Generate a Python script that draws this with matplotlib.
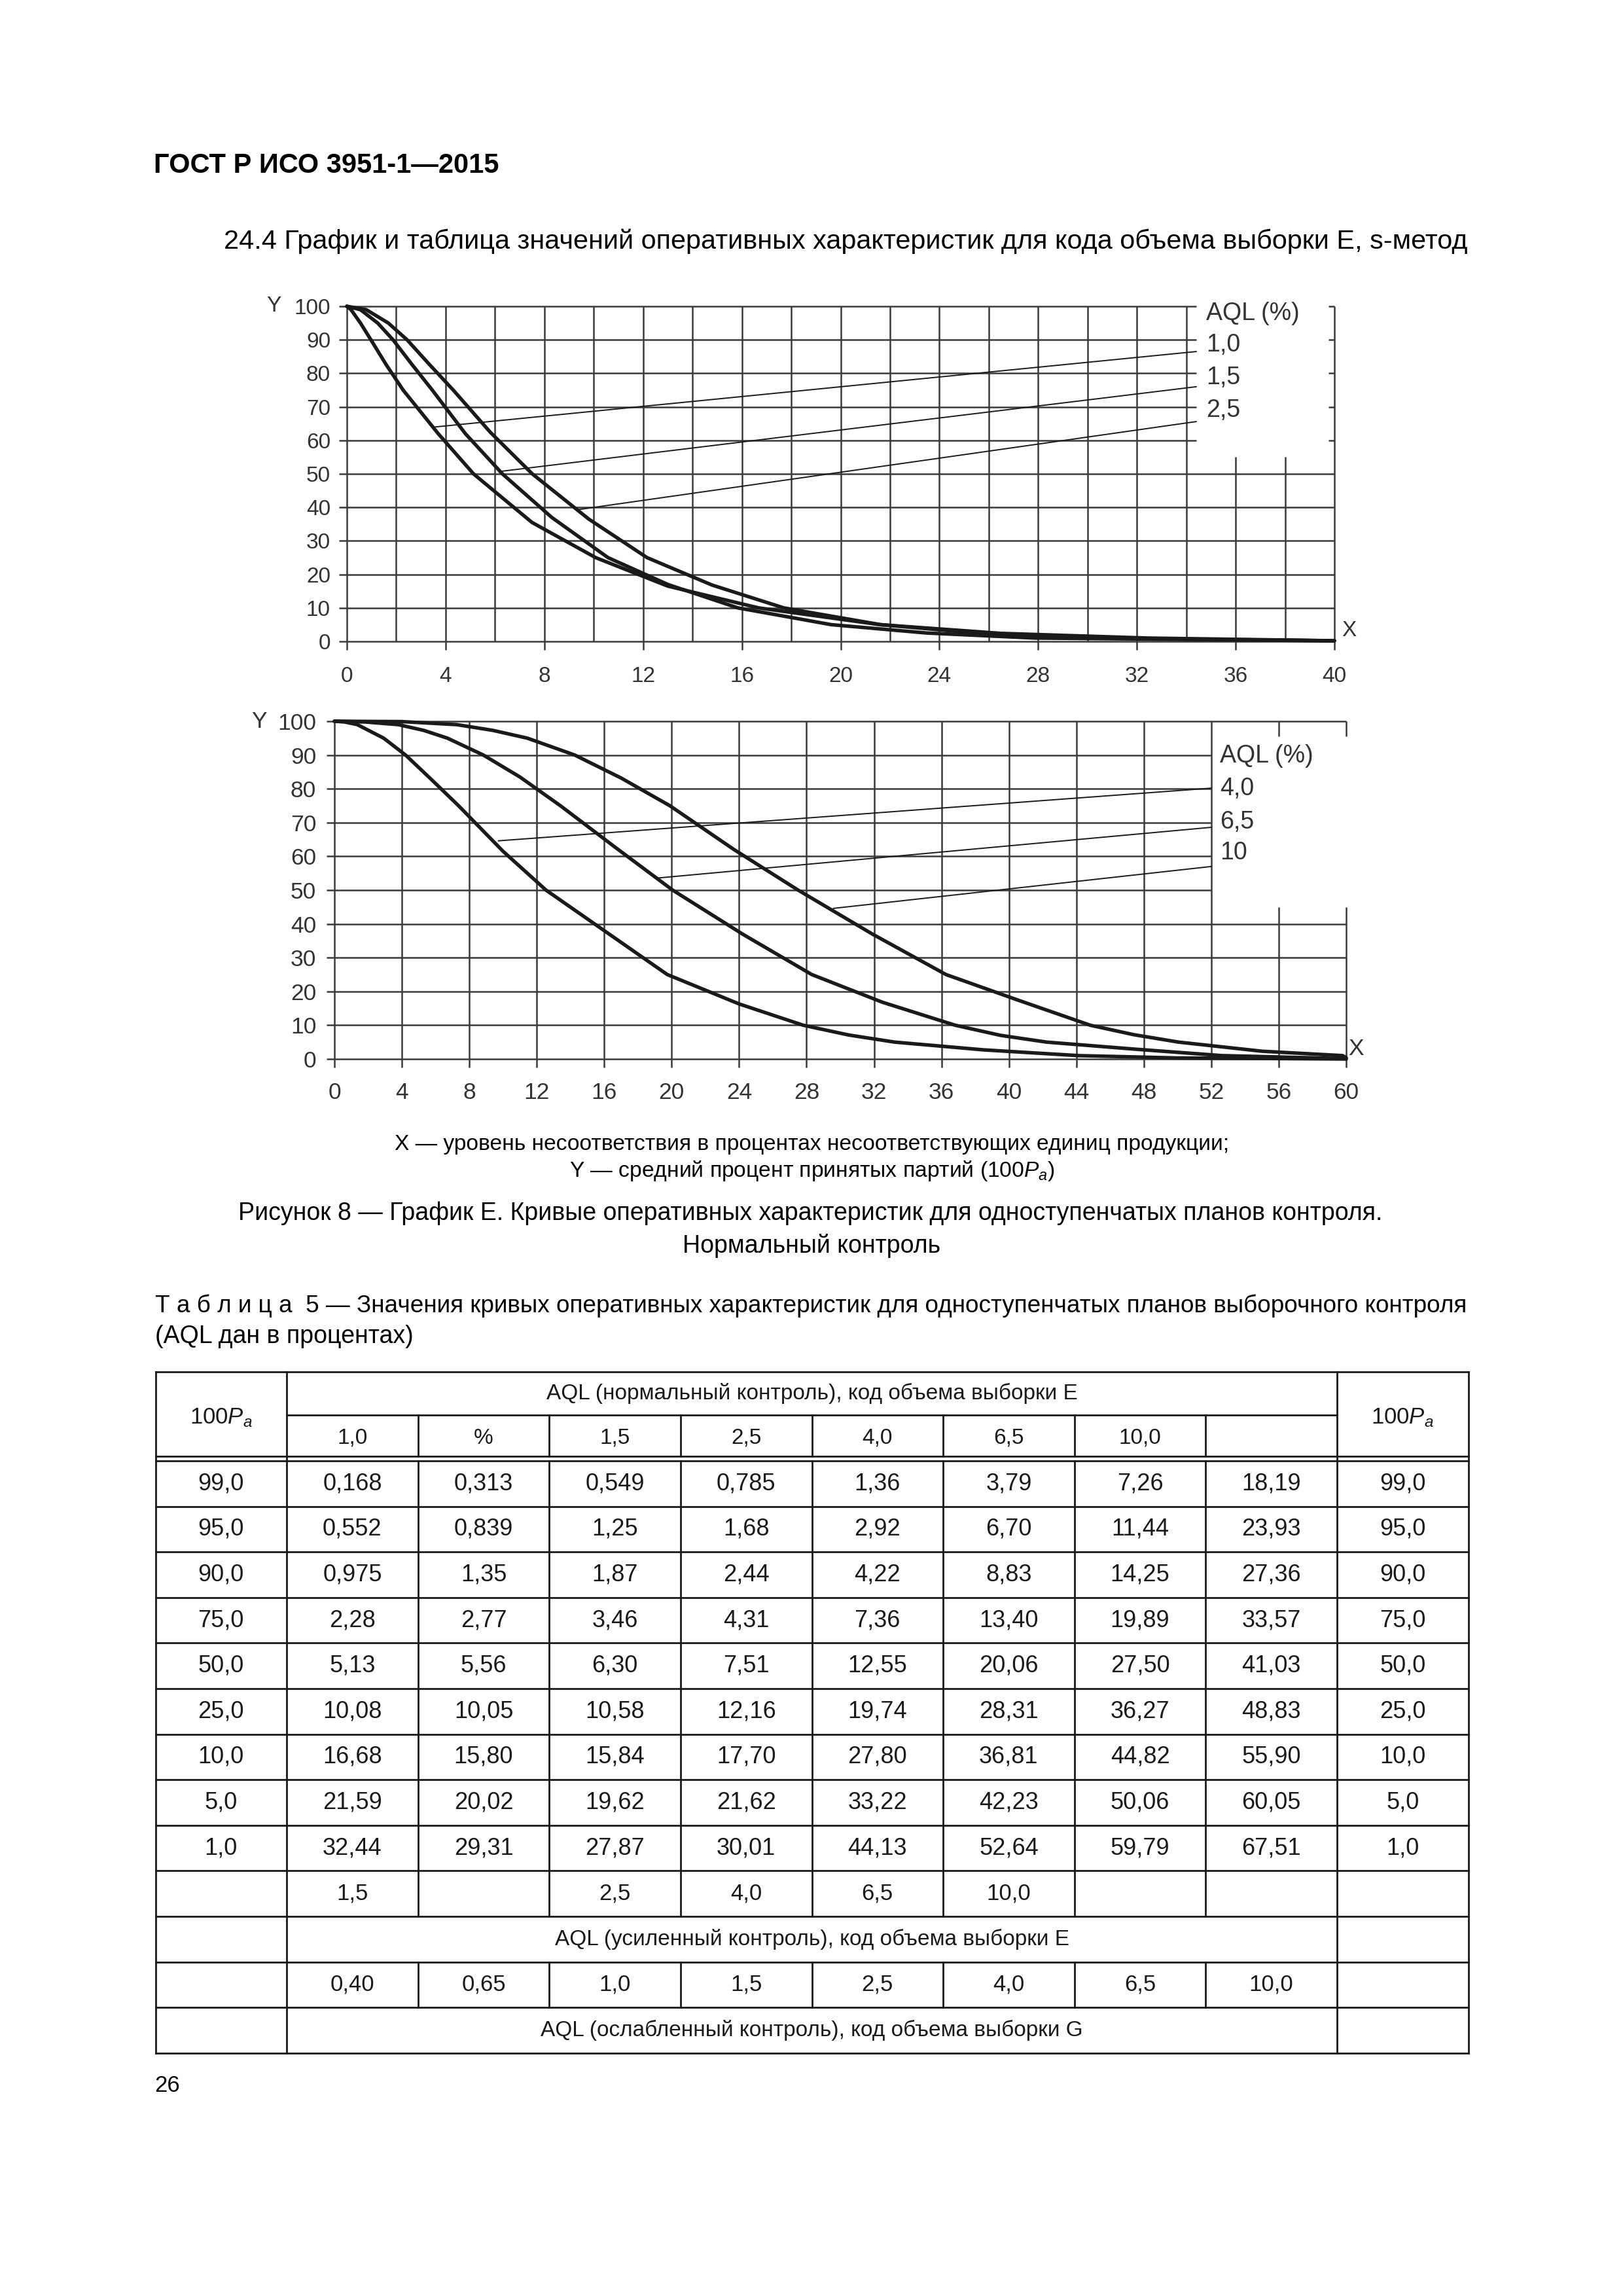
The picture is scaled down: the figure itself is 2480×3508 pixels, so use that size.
import matplotlib
matplotlib.use("Agg")
import matplotlib.pyplot as plt
import numpy as np

plt.rcParams["font.family"] = ["Liberation Sans", "DejaVu Sans"]
plt.rcParams["mathtext.fontset"] = "custom"
plt.rcParams["mathtext.rm"] = "Liberation Sans"
plt.rcParams["mathtext.it"] = "Liberation Sans:italic"

W, H, DPI = 2480, 3508, 100
INK = "#1a1a1a"
GRID = "#3a3a3a"
LABEL = "#333333"

# --- Table 5: X (percent nonconforming) at given 100Pa, per AQL column ---
PA = [99.0, 95.0, 90.0, 75.0, 50.0, 25.0, 10.0, 5.0, 1.0]
HEAD = ["1,0", "%", "1,5", "2,5", "4,0", "6,5", "10,0", ""]
X_10 = [0.168, 0.552, 0.975, 2.28, 5.13, 10.08, 16.68, 21.59, 32.44]
X_PCT = [0.313, 0.839, 1.35, 2.77, 5.56, 10.05, 15.80, 20.02, 29.31]
X_15 = [0.549, 1.25, 1.87, 3.46, 6.30, 10.58, 15.84, 19.62, 27.87]
X_25 = [0.785, 1.68, 2.44, 4.31, 7.51, 12.16, 17.70, 21.62, 30.01]
X_40 = [1.36, 2.92, 4.22, 7.36, 12.55, 19.74, 27.80, 33.22, 44.13]
X_65 = [3.79, 6.70, 8.83, 13.40, 20.06, 28.31, 36.81, 42.23, 52.64]
X_100 = [7.26, 11.44, 14.25, 19.89, 27.50, 36.27, 44.82, 50.06, 59.79]
X_LAST = [18.19, 23.93, 27.36, 33.57, 41.03, 48.83, 55.90, 60.05, 67.51]
TABLE_COLS = [X_10, X_PCT, X_15, X_25, X_40, X_65, X_100, X_LAST]
TIGHT_ROW = ["1,5", "", "2,5", "4,0", "6,5", "10,0", "", ""]
REDUCED_ROW = ["0,40", "0,65", "1,0", "1,5", "2,5", "4,0", "6,5", "10,0"]

# extra points (between the table rows)
EX_10 = ([1.6, 3.7, 7.5, 13.0, 26.5, 40.0], [82.5, 62.0, 35.5, 16.5, 2.4, 0.2])
EX_15 = ([2.6, 4.8, 8.3, 13.0, 23.5, 40.0], [83.0, 62.0, 37.0, 17.0, 2.5, 0.2])
EX_25 = ([3.3, 5.8, 9.8, 14.8, 25.5, 40.0], [83.0, 62.5, 36.5, 16.8, 2.5, 0.2])
EX_40 = ([0.6, 5.7, 10.0, 24.0, 30.5, 38.5, 50.0, 60.0],
         [99.8, 83.0, 61.5, 16.3, 7.1, 2.7, 0.3, 0.0])
EX_65 = ([1.8, 5.3, 11.0, 16.7, 24.2, 32.5, 39.5, 47.5, 60.0],
         [99.8, 97.3, 83.5, 62.5, 37.0, 16.8, 7.0, 2.9, 0.1])
EX_100 = ([4.0, 9.4, 17.0, 23.7, 31.9, 40.5, 47.4, 55.0, 60.0],
          [99.9, 97.3, 83.2, 62.0, 37.0, 17.5, 7.2, 2.3, 0.4])

# leader lines from curves to the AQL labels: (x0, y0, x1, y1)
LEAD_1 = [(3.58, 64.0, 34.4, 86.5), (6.29, 50.8, 34.4, 76.0), (9.34, 39.3, 34.4, 65.6)]
LEAD_2 = [(9.73, 64.6, 52.0, 80.2), (19.2, 53.6, 52.0, 68.6), (29.6, 44.6, 52.0, 57.0)]
LAB_1 = ["AQL (%)", "1,0", "1,5", "2,5"]
LAB_1_Y = [97.8, 88.4, 78.7, 69.0]
LAB_2 = ["AQL (%)", "4,0", "6,5", "10"]
LAB_2_Y = [89.8, 80.0, 70.2, 61.0]


def curve(col, extra):
    x = np.concatenate([[0.0], col, extra[0]])
    y = np.concatenate([[100.0], PA, extra[1]])
    o = np.argsort(x)
    return x[o], y[o]


def fmt(v, nd):
    return f"{v:.{nd}f}".replace(".", ",")


fig = plt.figure(figsize=(W / DPI, H / DPI), dpi=DPI)
page = fig.add_axes([0, 0, 1, 1])
page.set_xlim(0, W)
page.set_ylim(H, 0)
page.axis("off")


def style_axes(ax, xmax, xticks, fs, xpad, ypad):
    ax.set_xlim(0, xmax)
    ax.set_ylim(0, 100)
    ax.patch.set_alpha(0)
    for s in ax.spines.values():
        s.set_visible(False)
    ax.set_xticks(xticks)
    ax.set_yticks(range(0, 101, 10))
    ax.tick_params(direction="out", length=9, width=1.8, color=GRID, labelsize=fs,
                   labelcolor=LABEL)
    ax.tick_params(axis="x", pad=xpad)
    ax.tick_params(axis="y", pad=ypad)


gk = dict(color=GRID, lw=1.8, clip_on=False, zorder=1)
ck = dict(color=INK, lw=3.9, solid_joinstyle="round", solid_capstyle="round",
          clip_on=False, zorder=3)

# ---------------- chart 1 (AQL 1,0 / 1,5 / 2,5) ----------------
ax1 = fig.add_axes([530 / W, 1 - 980 / H, 1509 / W, 512 / H])
style_axes(ax1, 40, range(0, 41, 4), 24, 18, 9)
ax1.hlines(range(0, 51, 10), 0, 40, **gk)
ax1.hlines(range(60, 101, 10), 0, 34.4, **gk)
ax1.vlines(range(0, 35, 2), 0, 100, **gk)
ax1.vlines([36, 38], 0, 55, **gk)
ax1.vlines([40], 0, 100, **gk)
ax1.hlines(range(60, 101, 10), 39.75, 40, **gk)
for col, ex in [(X_10, EX_10), (X_15, EX_15), (X_25, EX_25)]:
    ax1.plot(*curve(col, ex), **ck)
for x0, y0, x1, y1 in LEAD_1:
    ax1.plot([x0, x1], [y0, y1], color=INK, lw=1.4, clip_on=False, zorder=2)
for t, yy in zip(LAB_1, LAB_1_Y):
    ax1.text(34.8, yy, t, fontsize=27, color=LABEL, va="center", ha="left")
ax1.text(-2.95, 100, "Y", fontsize=24, color=LABEL, va="center", ha="center")
ax1.text(40.6, 3.2, "X", fontsize=24, color=LABEL, va="center", ha="center")

# ---------------- chart 2 (AQL 4,0 / 6,5 / 10) ----------------
ax2 = fig.add_axes([511 / W, 1 - 1618 / H, 1546 / W, 516 / H])
style_axes(ax2, 60, range(0, 61, 4), 25.5, 16, 11)
ax2.hlines([0, 10, 20, 30, 40, 100], 0, 60, **gk)
ax2.hlines(range(50, 91, 10), 0, 52, **gk)
ax2.vlines(range(0, 53, 4), 0, 100, **gk)
ax2.vlines([56, 60], 0, 45, **gk)
ax2.vlines([56, 60], 95.5, 100, **gk)
for col, ex in [(X_40, EX_40), (X_65, EX_65), (X_100, EX_100)]:
    ax2.plot(*curve(col, ex), **ck)
for x0, y0, x1, y1 in LEAD_2:
    ax2.plot([x0, x1], [y0, y1], color=INK, lw=1.4, clip_on=False, zorder=2)
for t, yy in zip(LAB_2, LAB_2_Y):
    ax2.text(52.5, yy, t, fontsize=27, color=LABEL, va="center", ha="left")
ax2.text(-4.45, 100, "Y", fontsize=25.5, color=LABEL, va="center", ha="center")
ax2.text(60.6, 3.0, "X", fontsize=25.5, color=LABEL, va="center", ha="center")

# ---------------- page text ----------------
page.text(235, 253, "ГОСТ Р ИСО 3951-1—2015", fontsize=30, fontweight="bold",
          va="center", ha="left")
page.text(342, 369, "24.4 График и таблица значений оперативных характеристик для кода "
          "объема выборки E, s-метод", fontsize=29.8, va="center", ha="left")
page.text(1241, 1749, "X — уровень несоответствия в процентах несоответствующих единиц продукции;",
          fontsize=24.1, va="center", ha="center")
page.text(1241, 1789, "Y — средний процент принятых партий (100$P_a$)",
          fontsize=24.2, va="center", ha="center")
page.text(1238, 1854, "Рисунок 8 — График E. Кривые оперативных характеристик для одноступенчатых "
          "планов контроля.", fontsize=27, va="center", ha="center")
page.text(1240, 1903, "Нормальный контроль", fontsize=27, va="center", ha="center")
page.text(237, 1995, "Т а б л и ц а  5 — Значения кривых оперативных характеристик для "
          "одноступенчатых планов выборочного контроля", fontsize=26.6, va="center", ha="left")
page.text(237, 2042, "(AQL дан в процентах)", fontsize=27, va="center", ha="left")
page.text(236, 3186, "26", fontsize=25, va="center", ha="left")

# ---------------- table 5 ----------------
cx = [237.5 + 200.6 * k for k in range(11)]
top, hmid, hb1, hb2 = 2096, 2162, 2225, 2232
ry = [hb2 + 69.6 * k for k in range(14)]
tk = dict(color=INK, lw=2.0)
for yy in [top, hb1, hb2] + ry[1:]:
    page.plot([cx[0], cx[10]], [yy, yy], **tk)
page.plot([cx[1], cx[9]], [hmid, hmid], **tk)
for xx in [cx[0], cx[1], cx[9], cx[10]]:
    page.plot([xx, xx], [top, ry[13]], **tk)
for xx in cx[2:9]:
    page.plot([xx, xx], [hmid, hb1], **tk)
    page.plot([xx, xx], [hb2, ry[10]], **tk)
    page.plot([xx, xx], [ry[11], ry[12]], **tk)


def cell(col, y, s, fs=26):
    page.text((cx[col] + cx[col + 1]) / 2, y, s, fontsize=fs, va="center", ha="center",
              color=INK)


def span(y, s):
    page.text((cx[1] + cx[9]) / 2, y, s, fontsize=24, va="center", ha="center", color=INK)


span((top + hmid) / 2, "AQL (нормальный контроль), код объема выборки E")
for k, h in enumerate(HEAD):
    cell(k + 1, (hmid + hb1) / 2 + 4, h, 24)
cell(0, (top + hb1) / 2 + 6, "100$P_a$", 25)
cell(9, (top + hb1) / 2 + 6, "100$P_a$", 25)
for r, pa in enumerate(PA):
    yc = (ry[r] + ry[r + 1]) / 2
    cell(0, yc, fmt(pa, 1))
    cell(9, yc, fmt(pa, 1))
    for k, col in enumerate(TABLE_COLS):
        v = col[r]
        cell(k + 1, yc, fmt(v, 3 if v < 1 else 2))
for k, s in enumerate(TIGHT_ROW):
    cell(k + 1, (ry[9] + ry[10]) / 2, s, 25)
span((ry[10] + ry[11]) / 2, "AQL (усиленный контроль), код объема выборки E")
for k, s in enumerate(REDUCED_ROW):
    cell(k + 1, (ry[11] + ry[12]) / 2, s, 25)
span((ry[12] + ry[13]) / 2, "AQL (ослабленный контроль), код объема выборки G")

fig.savefig("out.png", dpi=DPI, facecolor="white")
